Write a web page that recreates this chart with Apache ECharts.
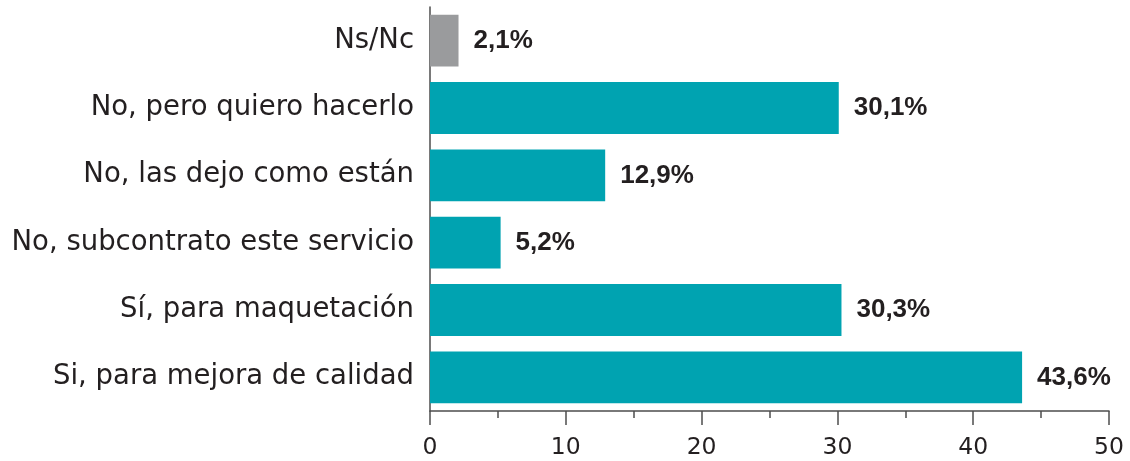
<!DOCTYPE html>
<html>
<head>
<meta charset="utf-8">
<script src="https://cdn.jsdelivr.net/npm/echarts@6/dist/echarts.min.js"></script>
<style>
  html, body { margin: 0; padding: 0; background: #fff; }
  #chart { width: 1130px; height: 461px; }
</style>
</head>
<body>
<div id="chart"></div>
<script>
// Survey answers, listed top to bottom
const categories = [
  'Ns/Nc',
  'No, pero quiero hacerlo',
  'No, las dejo como están',
  'No, subcontrato este servicio',
  'Sí, para maquetación',
  'Si, para mejora de calidad'
];
const values = [2.1, 30.1, 12.9, 5.2, 30.3, 43.6];
const barColors = ['#9a9b9d', '#00a3b1', '#00a3b1', '#00a3b1', '#00a3b1', '#00a3b1'];
const xTicks = [0, 10, 20, 30, 40, 50];

const chart = echarts.init(document.getElementById('chart'));
const textFont = '"DejaVu Sans", Verdana, sans-serif';
const boldFont = '"Liberation Sans", Arial, Helvetica, sans-serif';

chart.setOption({
  animation: false,
  grid: { left: 430, right: 21, top: 7, height: 404 },
  xAxis: {
    type: 'value',
    min: xTicks[0],
    max: xTicks[xTicks.length - 1],
    interval: 10,
    splitLine: { show: false },
    axisLine: { show: true, lineStyle: { color: '#4d4d4d', width: 1.5 } },
    axisTick: { show: true, length: 14, lineStyle: { color: '#4d4d4d', width: 1.5 } },
    minorTick: { show: true, splitNumber: 2, length: 7, lineStyle: { color: '#4d4d4d', width: 1.5 } },
    axisLabel: { color: '#231f20', fontSize: 23.5, fontFamily: textFont, margin: 25 }
  },
  yAxis: {
    type: 'category',
    data: categories,
    inverse: true,
    axisLine: { show: true, lineStyle: { color: '#4d4d4d', width: 1.5 } },
    axisTick: { show: false },
    axisLabel: { color: '#231f20', fontSize: 27.5, fontFamily: textFont, margin: 16 }
  },
  series: [{
    type: 'bar',
    data: values.map((v, i) => ({ value: v, itemStyle: { color: barColors[i] } })),
    barCategoryGap: '23%',
    label: {
      show: true,
      position: 'right',
      distance: 15,
      color: '#231f20',
      fontSize: 26,
      fontWeight: 'bold',
      fontFamily: boldFont,
      formatter: p => p.value.toFixed(1).replace('.', ',') + '%'
    }
  }]
});
</script>
</body>
</html>
